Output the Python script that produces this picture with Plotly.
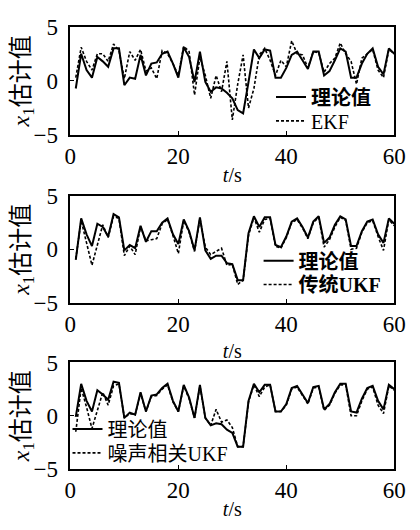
import plotly.graph_objects as go

t = list(range(1, 61))

# Panel 1: theoretical value vs EKF
truth1 = [-0.7, 2.5, 1.0, 0.3, 2.2, 1.8, 1.3, 3.0, 3.0, -0.4,
          0.3, 0.2, 2.4, 0.5, 1.6, 1.7, 2.5, 2.7, 1.6, 0.3,
          3.1, 2.2, -0.1, 2.7, -0.1, -1.0, -0.6, -0.7, -1.1, -1.6,
          -2.7, -3.0, -0.1, 2.9, 2.1, 2.9, 2.8, 0.3, 0.3, 1.2,
          2.4, 2.7, 1.9, 1.1, 2.7, 2.7, 0.5, 0.9, 1.9, 3.0,
          2.7, 0.3, 0.3, 1.6, 2.5, 3.0, 1.3, 0.6, 3.0, 2.5]
ekf = [0.3, 3.1, 1.8, 1.0, 2.5, 2.5, 1.8, 3.4, 2.8, 0.2,
       2.7, 1.9, 2.9, 0.9, 1.2, 0.2, 2.8, 2.5, 1.6, 0.5,
       3.2, 2.7, -1.3, 2.2, 0.5, -1.6, 0.5, -1.0, 1.8, -3.6,
       -0.3, 2.4, -2.5, -0.7, 2.4, 3.0, 1.9, 0.5, 1.9, 1.3,
       3.7, 2.5, 2.4, 1.2, 2.7, 2.6, 0.8, 1.6, 2.1, 3.5,
       2.5, 1.8, -0.3, 2.1, 2.5, 2.9, 1.0, 0.3, 2.9, 2.5]

# Panel 2: theoretical value vs traditional UKF
truth2 = [-1.0, 2.9, 1.4, 0.3, 2.4, 2.1, 1.2, 3.3, 3.0, -0.1,
          0.4, 0.1, 2.2, 0.7, 1.7, 1.7, 2.5, 2.9, 1.4, 0.5,
          2.8, 1.7, -0.1, 3.0, -0.1, -0.9, -0.6, -0.6, -1.3, -1.4,
          -2.9, -2.9, 1.5, 3.1, 2.1, 3.0, 3.0, 0.4, 0.2, 1.2,
          2.6, 2.9, 2.1, 1.1, 2.6, 3.1, 0.6, 1.1, 2.3, 3.1,
          2.8, 0.3, 0.3, 1.7, 2.6, 2.8, 1.4, 0.6, 2.9, 2.4]
ukf = [-0.9, 2.7, 0.6, -1.5, 0.4, 2.3, 1.1, 3.1, 2.9, -0.6,
       0.3, -0.5, 2.1, 0.8, 0.9, 1.0, 2.4, 2.8, 1.3, -0.4,
       2.7, 1.6, -0.2, 2.9, 0.2, -0.5, -0.2, 0.1, -1.5, -1.4,
       -3.3, -2.9, 1.3, 3.0, 1.6, 2.8, 2.9, 0.3, 0.1, 1.1,
       2.5, 2.8, 2.0, 1.0, 2.5, 3.0, 0.2, 0.9, 2.1, 3.0,
       2.7, 0.0, 0.1, 1.6, 2.5, 2.7, 1.2, -0.1, 2.8, 2.2]

# Panel 3: theoretical value vs noise-correlated UKF
truth3 = [-0.1, 3.0, 1.4, 0.4, 2.4, 2.0, 1.5, 3.2, 3.1, -0.2,
          0.3, 0.1, 2.2, 0.4, 1.9, 2.0, 2.6, 3.0, 1.4, 0.4,
          2.9, 1.7, -0.2, 2.9, -0.2, -0.9, -0.7, -0.8, -1.3, -1.6,
          -2.9, -2.9, 1.4, 3.0, 2.2, 2.9, 2.9, 0.4, 0.4, 1.1,
          2.6, 2.8, 2.0, 1.2, 2.7, 2.8, 0.6, 1.1, 2.2, 3.0,
          3.0, 0.4, 0.3, 1.6, 2.6, 2.8, 1.4, 0.6, 2.9, 2.5]
nc_ukf = [-1.5, 2.6, 0.8, -1.2, 0.5, 2.2, 1.0, 2.8, 3.0, -0.2,
          0.2, 0.1, 2.1, 0.4, 1.8, 1.9, 2.5, 2.9, 1.3, 0.4,
          2.8, 1.6, -0.2, 2.8, -0.2, -0.9, 0.6, -0.6, -0.4, -1.1,
          -2.9, -2.9, 1.3, 2.9, 1.8, 2.7, 2.9, 0.4, 0.4, 1.0,
          2.5, 2.7, 1.9, 1.1, 2.6, 2.7, 0.5, 1.0, 2.1, 2.9,
          2.9, 0.0, 0.0, 1.4, 2.5, 2.7, 1.0, 0.2, 2.8, 2.4]

x_ticks = [0, 20, 40, 60]
y_ticks = [-5, 0, 5]

LAT = "Liberation Serif, Noto Sans CJK SC, serif"
# page has an 8px body margin; figure sized to fit the 420x530 window
OFF = 8
W, H = 420 - 2 * OFF, 530 - 2 * OFF


def fx(px):
    return (px - OFF) / W


def fy(py):
    return 1 - (py - OFF) / H


fig = go.Figure()

panels = [
    ("", truth1, ekf, "<b>理论值</b>", "EKF", "legend", "legend4"),
    ("2", truth2, ukf, "<b>理论值</b>", "<b>传统UKF</b>", "legend2", "legend5"),
    ("3", truth3, nc_ukf, "理论值", "噪声相关UKF", "legend3", "legend6"),
]
for suf, tr, est, n1, n2, lg1, lg2 in panels:
    fig.add_trace(go.Scatter(x=t, y=tr, mode="lines", name=n1, legend=lg1,
                             xaxis="x" + suf, yaxis="y" + suf,
                             line=dict(color="black", width=2)))
    fig.add_trace(go.Scatter(x=t, y=est, mode="lines", name=n2, legend=lg2,
                             xaxis="x" + suf, yaxis="y" + suf,
                             line=dict(color="black", width=1.6, dash="3px,2px")))

# page-pixel frames (top, bottom) for each panel and x-title standoffs
frames = [(15, 129), (193, 305), (368, 480)]
standoffs = [0, 8, 0]
xl, xr = 67, 406


def ax_common():
    return dict(showline=True, linecolor="black", linewidth=1.5, mirror=True,
                ticks="inside", ticklen=4, tickcolor="black", tickwidth=1.2,
                showgrid=False, zeroline=False, ticklabeloverflow="allow",
                tickfont=dict(family=LAT, size=23, color="black"))


layout = dict(width=W, height=H, margin=dict(l=0, r=0, t=0, b=0),
              paper_bgcolor="white", plot_bgcolor="white", showlegend=True)

for i, (top, bot) in enumerate(frames):
    suf = "" if i == 0 else str(i + 1)
    xa = ax_common()
    xa.update(domain=[fx(xl), fx(xr)], range=[0, 60], tickvals=x_ticks,
              anchor="y" + suf,
              title=dict(text="<i>t</i>/s", standoff=standoffs[i],
                         font=dict(family=LAT, size=20, color="black")))
    ya = ax_common()
    ya.update(domain=[fy(bot), fy(top)], range=[-5, 5], tickvals=y_ticks,
              anchor="x" + suf, ticklabelstandoff=6,
              title=dict(text="<i>x</i><sub>1</sub>估计值", standoff=2,
                         font=dict(family=LAT, size=24, color="black")))
    layout["xaxis" + suf] = xa
    layout["yaxis" + suf] = ya

leg_common = dict(xanchor="left", yanchor="middle", bgcolor="rgba(0,0,0,0)",
                  borderwidth=0, tracegroupgap=0, itemwidth=30,
                  font=dict(family=LAT, size=20, color="black"))
# (legend key, line-start x, row centre y) in page pixels
legend_pos = [("legend", 285, 89), ("legend4", 285, 114),
              ("legend2", 272, 261), ("legend5", 272, 286),
              ("legend3", 72, 438), ("legend6", 72, 463)]
for key, lx, ly in legend_pos:
    layout[key] = dict(leg_common, x=fx(lx - 8), y=fy(ly))

fig.update_layout(**layout)

fig.write_html("out.html", config={"displayModeBar": False})
